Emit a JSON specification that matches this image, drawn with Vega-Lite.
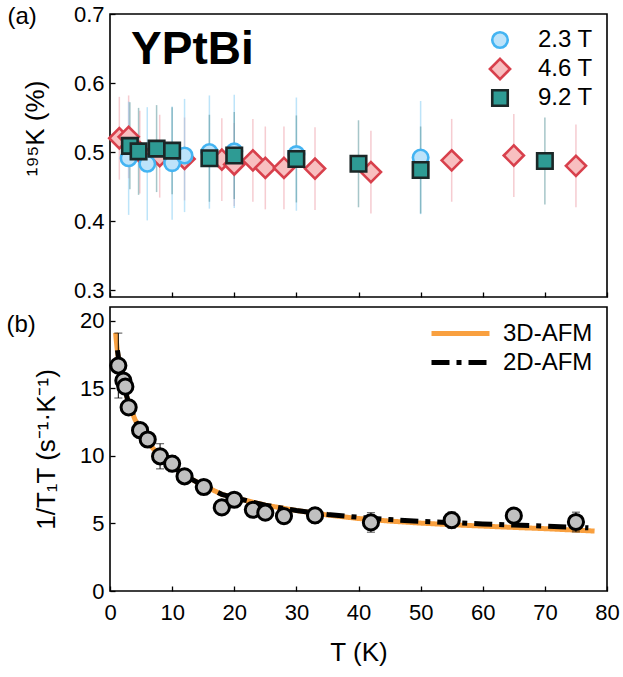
{
  "$schema": "https://vega.github.io/schema/vega-lite/v6.json",
  "padding": {"left": 5, "top": 2, "right": 3, "bottom": 5},
  "background": "white",
  "spacing": 4,
  "resolve": {
    "scale": {"color": "independent", "strokeDash": "independent"},
    "legend": {"color": "independent", "strokeDash": "independent"}
  },
  "config": {
    "font": "Liberation Sans",
    "view": {"stroke": "black", "strokeWidth": 1.6},
    "axis": {
      "domain": false, "grid": false, "tickColor": "black", "tickSize": -5, "tickWidth": 1.3,
      "labelFontSize": 22, "labelColor": "black", "labelFlush": false, "labelOverlap": false,
      "titleFontSize": 26, "titleFontWeight": "normal", "titleColor": "black", "labelPadding": 11
    },
    "legend": {"labelFontSize": 24, "labelColor": "black", "title": null}
  },
  "datasets": {
    "knight": [
      {"series": "4.6 T", "T": 1.5, "K": 0.520, "lo": 0.460, "hi": 0.580},
      {"series": "4.6 T", "T": 3, "K": 0.522, "lo": 0.462, "hi": 0.582},
      {"series": "4.6 T", "T": 4.8, "K": 0.500, "lo": 0.440, "hi": 0.560},
      {"series": "4.6 T", "T": 8, "K": 0.494, "lo": 0.434, "hi": 0.554},
      {"series": "4.6 T", "T": 12, "K": 0.490, "lo": 0.430, "hi": 0.550},
      {"series": "4.6 T", "T": 18, "K": 0.489, "lo": 0.429, "hi": 0.549},
      {"series": "4.6 T", "T": 20, "K": 0.482, "lo": 0.422, "hi": 0.542},
      {"series": "4.6 T", "T": 23, "K": 0.488, "lo": 0.428, "hi": 0.548},
      {"series": "4.6 T", "T": 25, "K": 0.477, "lo": 0.417, "hi": 0.537},
      {"series": "4.6 T", "T": 28, "K": 0.477, "lo": 0.417, "hi": 0.537},
      {"series": "4.6 T", "T": 33, "K": 0.476, "lo": 0.416, "hi": 0.536},
      {"series": "4.6 T", "T": 42, "K": 0.471, "lo": 0.411, "hi": 0.531},
      {"series": "4.6 T", "T": 55, "K": 0.488, "lo": 0.428, "hi": 0.548},
      {"series": "4.6 T", "T": 65, "K": 0.495, "lo": 0.435, "hi": 0.555},
      {"series": "4.6 T", "T": 75, "K": 0.480, "lo": 0.420, "hi": 0.540},
      {"series": "2.3 T", "T": 3, "K": 0.491, "lo": 0.409, "hi": 0.573},
      {"series": "2.3 T", "T": 6, "K": 0.483, "lo": 0.401, "hi": 0.565},
      {"series": "2.3 T", "T": 10, "K": 0.484, "lo": 0.402, "hi": 0.566},
      {"series": "2.3 T", "T": 12, "K": 0.495, "lo": 0.413, "hi": 0.577},
      {"series": "2.3 T", "T": 16, "K": 0.500, "lo": 0.418, "hi": 0.582},
      {"series": "2.3 T", "T": 20, "K": 0.501, "lo": 0.419, "hi": 0.583},
      {"series": "2.3 T", "T": 30, "K": 0.497, "lo": 0.415, "hi": 0.579},
      {"series": "2.3 T", "T": 50, "K": 0.492, "lo": 0.410, "hi": 0.574},
      {"series": "9.2 T", "T": 3.2, "K": 0.509, "lo": 0.446, "hi": 0.572},
      {"series": "9.2 T", "T": 4.6, "K": 0.501, "lo": 0.438, "hi": 0.564},
      {"series": "9.2 T", "T": 7.5, "K": 0.505, "lo": 0.442, "hi": 0.568},
      {"series": "9.2 T", "T": 10, "K": 0.502, "lo": 0.439, "hi": 0.565},
      {"series": "9.2 T", "T": 16, "K": 0.491, "lo": 0.428, "hi": 0.554},
      {"series": "9.2 T", "T": 20, "K": 0.495, "lo": 0.432, "hi": 0.558},
      {"series": "9.2 T", "T": 30, "K": 0.490, "lo": 0.427, "hi": 0.553},
      {"series": "9.2 T", "T": 40, "K": 0.483, "lo": 0.420, "hi": 0.546},
      {"series": "9.2 T", "T": 50, "K": 0.474, "lo": 0.411, "hi": 0.537},
      {"series": "9.2 T", "T": 70, "K": 0.487, "lo": 0.424, "hi": 0.550}
    ],
    "relax": [
      {"T": 1.34, "v": 16.67, "lo": 14.27, "hi": 19.07},
      {"T": 2.15, "v": 15.56, "lo": 15.26, "hi": 15.86},
      {"T": 2.47, "v": 15.11, "lo": 14.81, "hi": 15.41},
      {"T": 3.0, "v": 13.58, "lo": 13.38, "hi": 13.78},
      {"T": 4.84, "v": 11.89, "lo": 11.69, "hi": 12.09},
      {"T": 6.07, "v": 11.20, "lo": 11.0, "hi": 11.4},
      {"T": 8.06, "v": 9.96, "lo": 9.03, "hi": 10.89},
      {"T": 10.0, "v": 9.42, "lo": 8.82, "hi": 10.02},
      {"T": 12.0, "v": 8.48, "lo": 8.28, "hi": 8.68},
      {"T": 15.1, "v": 7.69, "lo": 7.39, "hi": 7.99},
      {"T": 18.0, "v": 6.18, "lo": 5.98, "hi": 6.38},
      {"T": 20.0, "v": 6.75, "lo": 6.55, "hi": 6.95},
      {"T": 23.0, "v": 6.01, "lo": 5.81, "hi": 6.21},
      {"T": 25.0, "v": 5.79, "lo": 5.59, "hi": 5.99},
      {"T": 28.0, "v": 5.54, "lo": 5.29, "hi": 5.79},
      {"T": 33.0, "v": 5.59, "lo": 5.02, "hi": 6.16},
      {"T": 42.0, "v": 5.07, "lo": 4.35, "hi": 5.79},
      {"T": 55.0, "v": 5.24, "lo": 4.64, "hi": 5.84},
      {"T": 65.0, "v": 5.57, "lo": 5.07, "hi": 6.07},
      {"T": 75.0, "v": 5.10, "lo": 4.37, "hi": 5.83}
    ],
    "fits": [
      {"model": "3D-AFM", "T": 0.9, "v": 19.1},
      {"model": "3D-AFM", "T": 1.0, "v": 18.6},
      {"model": "3D-AFM", "T": 1.2, "v": 17.7},
      {"model": "3D-AFM", "T": 1.5, "v": 16.8},
      {"model": "3D-AFM", "T": 2, "v": 15.6},
      {"model": "3D-AFM", "T": 2.5, "v": 14.7},
      {"model": "3D-AFM", "T": 3, "v": 13.9},
      {"model": "3D-AFM", "T": 4, "v": 12.7},
      {"model": "3D-AFM", "T": 5, "v": 11.8},
      {"model": "3D-AFM", "T": 6, "v": 11.1},
      {"model": "3D-AFM", "T": 7, "v": 10.5},
      {"model": "3D-AFM", "T": 8, "v": 10.0},
      {"model": "3D-AFM", "T": 10, "v": 9.25},
      {"model": "3D-AFM", "T": 12, "v": 8.55},
      {"model": "3D-AFM", "T": 15, "v": 7.8},
      {"model": "3D-AFM", "T": 18, "v": 7.15},
      {"model": "3D-AFM", "T": 20, "v": 6.9},
      {"model": "3D-AFM", "T": 25, "v": 6.35},
      {"model": "3D-AFM", "T": 30, "v": 5.95},
      {"model": "3D-AFM", "T": 35, "v": 5.62},
      {"model": "3D-AFM", "T": 40, "v": 5.36},
      {"model": "3D-AFM", "T": 45, "v": 5.17},
      {"model": "3D-AFM", "T": 50, "v": 5.02},
      {"model": "3D-AFM", "T": 55, "v": 4.90},
      {"model": "3D-AFM", "T": 60, "v": 4.80},
      {"model": "3D-AFM", "T": 65, "v": 4.70},
      {"model": "3D-AFM", "T": 70, "v": 4.61},
      {"model": "3D-AFM", "T": 75, "v": 4.50},
      {"model": "3D-AFM", "T": 78, "v": 4.43},
      {"model": "2D-AFM", "T": 1.2, "v": 17.8},
      {"model": "2D-AFM", "T": 1.5, "v": 16.8},
      {"model": "2D-AFM", "T": 2, "v": 15.6},
      {"model": "2D-AFM", "T": 2.5, "v": 14.7},
      {"model": "2D-AFM", "T": 3, "v": 13.9},
      {"model": "2D-AFM", "T": 4, "v": 12.7},
      {"model": "2D-AFM", "T": 5, "v": 11.8},
      {"model": "2D-AFM", "T": 6, "v": 11.1},
      {"model": "2D-AFM", "T": 7, "v": 10.5},
      {"model": "2D-AFM", "T": 8, "v": 10.0},
      {"model": "2D-AFM", "T": 10, "v": 9.25},
      {"model": "2D-AFM", "T": 12, "v": 8.55},
      {"model": "2D-AFM", "T": 15, "v": 7.8},
      {"model": "2D-AFM", "T": 18, "v": 7.15},
      {"model": "2D-AFM", "T": 20, "v": 6.9},
      {"model": "2D-AFM", "T": 25, "v": 6.35},
      {"model": "2D-AFM", "T": 30, "v": 5.95},
      {"model": "2D-AFM", "T": 35, "v": 5.66},
      {"model": "2D-AFM", "T": 40, "v": 5.45},
      {"model": "2D-AFM", "T": 45, "v": 5.28},
      {"model": "2D-AFM", "T": 50, "v": 5.15},
      {"model": "2D-AFM", "T": 55, "v": 5.05},
      {"model": "2D-AFM", "T": 60, "v": 4.96},
      {"model": "2D-AFM", "T": 65, "v": 4.88},
      {"model": "2D-AFM", "T": 70, "v": 4.80},
      {"model": "2D-AFM", "T": 75, "v": 4.71},
      {"model": "2D-AFM", "T": 77, "v": 4.67}
    ],
    "labels": [
      {"label": "YPtBi", "T": 3.4, "K": 0.628}
    ]
  },
  "vconcat": [
    {
      "width": 497,
      "height": 283,
      "title": {"text": "(a)", "anchor": "start", "frame": "bounds", "offset": -26, "dx": -15, "fontSize": 24, "fontWeight": "normal", "color": "black"},
      "layer": [
        {
          "data": {"name": "knight"},
          "mark": {"type": "rule", "strokeWidth": 1.5, "opacity": 0.5},
          "encoding": {
            "x": {"field": "T", "type": "quantitative", "scale": {"domain": [0, 80], "nice": false, "zero": false},
                  "axis": {"values": [0,5,10,15,20,25,30,35,40,45,50,55,60,65,70,75,80], "labels": false, "title": null}},
            "y": {"field": "lo", "type": "quantitative", "scale": {"domain": [0.29, 0.70], "nice": false, "zero": false}, "title": "¹⁹⁵K (%)",
                  "axis": {"values": [0.3,0.35,0.4,0.45,0.5,0.55,0.6,0.65,0.7], "labelExpr": "round(datum.value*100) % 10 === 0 ? format(datum.value, '.1f') : ''", "titlePadding": 25, "titleY": 114}},
            "y2": {"field": "hi"},
            "color": {"field": "series", "type": "nominal", "scale": {"domain": ["2.3 T", "4.6 T", "9.2 T"], "range": ["#7CC9F3", "#EE9AA3", "#4E8E93"]}, "legend": null}
          }
        },
        {
          "data": {"name": "knight"},
          "mark": {"type": "point", "filled": true, "opacity": 1, "strokeWidth": 2.6},
          "encoding": {
            "x": {"field": "T", "type": "quantitative"},
            "y": {"field": "K", "type": "quantitative", "title": "¹⁹⁵K (%)"},
            "size": {"value": 240},
            "shape": {"field": "series", "type": "nominal", "scale": {"domain": ["2.3 T", "4.6 T", "9.2 T"], "range": ["circle", "M-1.3,0L0,-1.3L1.3,0L0,1.3Z", "square"]},
                      "legend": {"orient": "top-right", "offset": 14, "labelOffset": 26, "rowPadding": 0, "symbolStrokeWidth": 2.6, "symbolSize": 240, "labelFontSize": 24}},
            "fill": {"field": "series", "type": "nominal", "scale": {"domain": ["2.3 T", "4.6 T", "9.2 T"], "range": ["#BDE3FA", "#F8BFC0", "#2E9B94"]}},
            "stroke": {"field": "series", "type": "nominal", "scale": {"domain": ["2.3 T", "4.6 T", "9.2 T"], "range": ["#44B4F2", "#D8404C", "#1B2727"]}}
          }
        },
        {
          "data": {"name": "labels"},
          "mark": {"type": "text", "align": "left", "baseline": "alphabetic", "fontSize": 46, "fontWeight": "bold", "color": "black"},
          "encoding": {
            "x": {"field": "T", "type": "quantitative"},
            "y": {"field": "K", "type": "quantitative", "title": "¹⁹⁵K (%)"},
            "text": {"field": "label"}
          }
        }
      ]
    },
    {
      "width": 497,
      "height": 284,
      "title": {"text": "(b)", "anchor": "start", "frame": "bounds", "offset": -30, "dx": -27, "fontSize": 24, "fontWeight": "normal", "color": "black"},
      "layer": [
        {
          "data": {"name": "fits"},
          "mark": {"type": "line", "strokeWidth": 5, "strokeCap": "butt"},
          "encoding": {
            "x": {"field": "T", "type": "quantitative", "scale": {"domain": [0, 80], "nice": false, "zero": false}, "title": "T (K)",
                  "axis": {"values": [0,5,10,15,20,25,30,35,40,45,50,55,60,65,70,75,80], "labelExpr": "datum.value % 10 === 0 ? datum.label : ''", "labelPadding": 16, "titlePadding": 16}},
            "y": {"field": "v", "type": "quantitative", "scale": {"domain": [0, 21], "nice": false, "zero": false}, "title": "1/T₁T (s⁻¹·K⁻¹)",
                  "axis": {"values": [0,2.5,5,7.5,10,12.5,15,17.5,20], "labelExpr": "datum.value % 5 === 0 ? datum.label : ''", "titlePadding": 20}},
            "color": {"field": "model", "type": "nominal", "scale": {"domain": ["3D-AFM", "2D-AFM"], "range": ["#F9A03F", "#000000"]},
                      "legend": {"orient": "top-right", "offset": 14, "symbolType": "M-2.9,0L2.9,0", "symbolStrokeWidth": 5, "symbolSize": 400, "labelOffset": 30, "rowPadding": 4, "labelFontSize": 24}},
            "strokeDash": {"field": "model", "type": "nominal", "scale": {"domain": ["3D-AFM", "2D-AFM"], "range": [[1, 0], [18, 7, 5, 7]]}}
          }
        },
        {
          "data": {"name": "relax"},
          "mark": {"type": "errorbar", "ticks": {"size": 8, "color": "black"}, "color": "black", "thickness": 1},
          "encoding": {
            "x": {"field": "T", "type": "quantitative", "title": "T (K)"},
            "y": {"field": "lo", "type": "quantitative", "title": "1/T₁T (s⁻¹·K⁻¹)"},
            "y2": {"field": "hi"}
          }
        },
        {
          "data": {"name": "relax"},
          "mark": {"type": "point", "shape": "circle", "filled": true, "fill": "#C0C0C0", "stroke": "black", "strokeWidth": 3, "size": 230, "opacity": 1},
          "encoding": {
            "x": {"field": "T", "type": "quantitative", "title": "T (K)"},
            "y": {"field": "v", "type": "quantitative", "title": "1/T₁T (s⁻¹·K⁻¹)"}
          }
        }
      ]
    }
  ]
}
